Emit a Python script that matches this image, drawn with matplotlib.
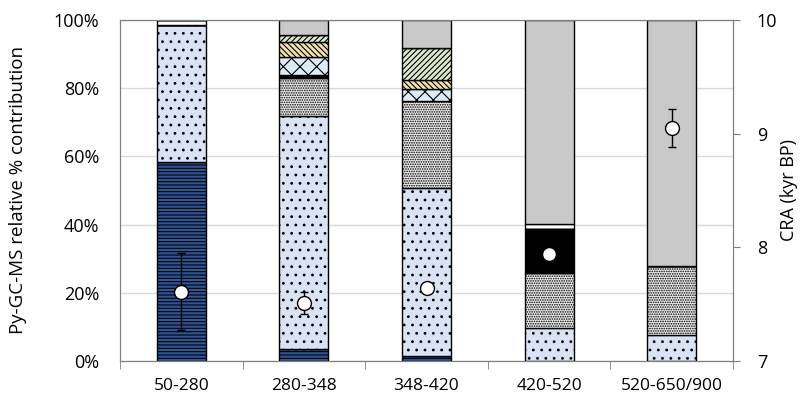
import numpy as np
import matplotlib
matplotlib.use("Agg")
from matplotlib import pyplot as plt

plt.rcParams['font.family'] = ['Open Sans', 'DejaVu Sans']
plt.rcParams['hatch.linewidth'] = 0.8

# depth intervals
categories = ['50-280', '280-348', '348-420', '420-520', '520-650/900']

# relative % contribution per compound group (bottom -> top)
blue_lines = [58.3, 3.5, 1.5, 0.0, 0.0]
light_dots = [40.2, 68.3, 49.2, 9.7, 7.6]
stipple = [0.0, 11.2, 25.5, 16.1, 20.3]
black = [0.0, 0.9, 0.0, 12.9, 0.0]
crosshatch = [0.0, 5.3, 3.6, 0.0, 0.0]
yellow = [0.0, 4.4, 2.6, 0.0, 0.0]
green = [0.0, 2.0, 9.3, 0.0, 0.0]
dashed = [1.5, 0.0, 0.0, 1.5, 0.0]
grey = [0.0, 4.4, 8.3, 59.8, 72.1]

# conventional radiocarbon age (kyr BP)
cra = [7.61, 7.51, 7.64, 7.94, 9.05]
cra_err = [0.34, 0.10, 0.0, 0.0, 0.17]

series = [
    (blue_lines, '#2F5597', '-----'),
    (light_dots, '#DAE3F3', '..'),
    (stipple, '#EDEDED', '.......'),
    (black, '#000000', None),
    (crosshatch, '#DDEBF7', 'xx'),
    (yellow, '#F2E2B0', '\\\\\\\\\\\\'),
    (green, '#DCE9CF', '//////'),
    (dashed, '#FFFFFF', '--'),
    (grey, '#C9C9C9', None),
]

fig = plt.figure(figsize=(8.02, 4.01), dpi=100)
ax = fig.add_axes([0.1496, 0.0998, 0.7644, 0.8504])
x = np.arange(len(categories))
bottom = np.zeros(len(categories))
for vals, color, hatch in series:
    vals = np.array(vals)
    ax.bar(x, vals, width=0.4, bottom=bottom, color=color, edgecolor='black',
           linewidth=1.0, hatch=hatch, zorder=2)
    bottom += vals

ax.set_xlim(-0.5, len(categories) - 0.5)
ax.set_ylim(0, 100)
ax.set_yticks(np.arange(0, 101, 20))
ax.set_yticklabels([f'{v}%' for v in range(0, 101, 20)])
ax.yaxis.grid(True, color='#D9D9D9', linewidth=1.0, zorder=0)
ax.set_axisbelow(True)
ax.set_xticks(x)
ax.set_xticklabels(categories)
ax.set_xticks(np.arange(-0.5, len(categories), 1), minor=True)
ax.tick_params(axis='x', which='major', length=0, pad=12, labelsize=12.5)
ax.tick_params(axis='x', which='minor', length=6, color='#7F7F7F')
ax.tick_params(axis='y', length=0, labelsize=13, pad=15)
ax.set_ylabel('Py-GC-MS relative % contribution', fontsize=13.5)
ax.yaxis.set_label_coords(-0.152, 0.5)
for s in ax.spines.values():
    s.set_color('#7F7F7F')

ax2 = ax.twinx()
ax2.set_ylim(7, 10)
ax2.set_yticks([7, 8, 9, 10])
ax2.tick_params(axis='y', length=5, color='#7F7F7F', labelsize=13, pad=12)
ax2.set_ylabel('CRA (kyr BP)', fontsize=13)
ax2.yaxis.set_label_coords(1.077, 0.5)
for s in ax2.spines.values():
    s.set_color('#7F7F7F')
ax2.errorbar(x, cra, yerr=cra_err, fmt='o', markersize=10, markerfacecolor='white',
             markeredgecolor='black', markeredgewidth=1.0, ecolor='black',
             elinewidth=1.0, capsize=3, zorder=3)

fig.savefig('out.png', dpi=100)
